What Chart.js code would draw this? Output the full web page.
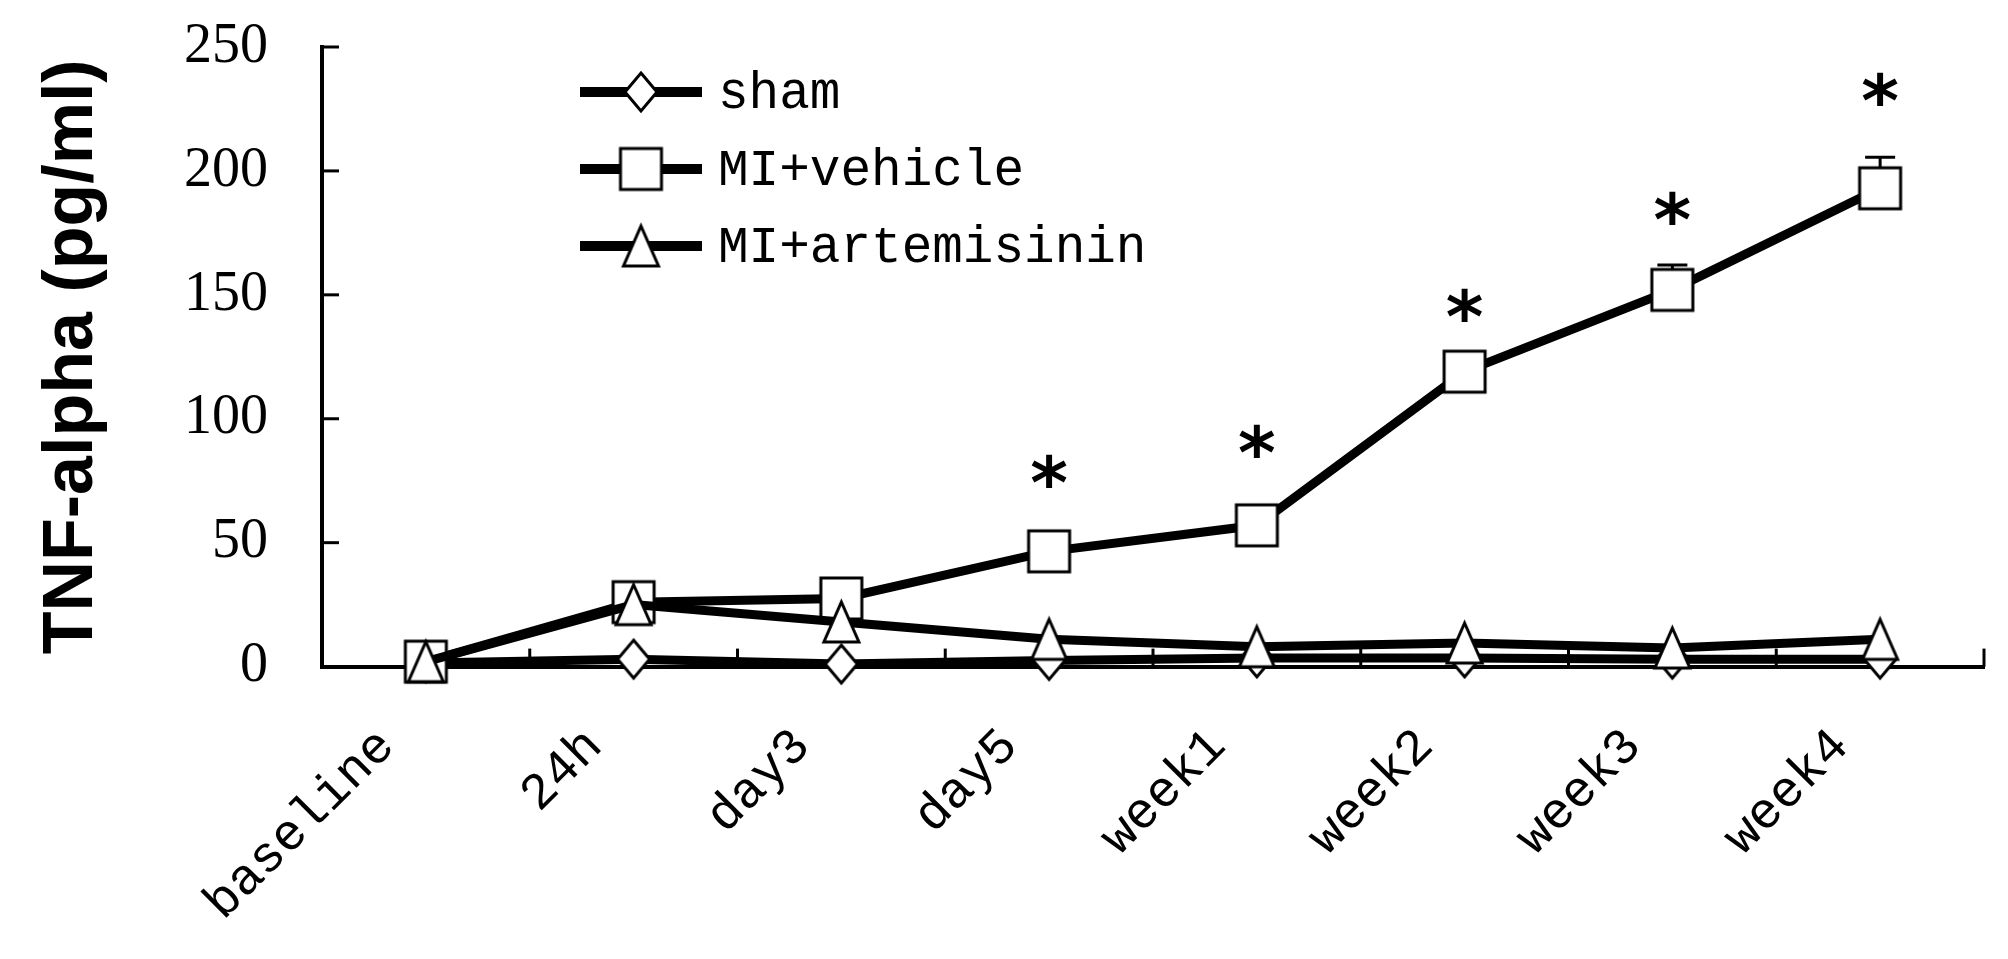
<!DOCTYPE html>
<html>
<head>
<meta charset="utf-8">
<script src="https://cdn.jsdelivr.net/npm/chart.js@4.4.1/dist/chart.umd.min.js"></script>
<style>
  html, body { margin: 0; padding: 0; background: #fff; }
  .wrap { width: 2008px; height: 959px; }
</style>
</head>
<body>
<div class="wrap"><canvas id="myChart"></canvas></div>
<script>
// values
const labels = ['baseline', '24h', 'day3', 'day5', 'week1', 'week2', 'week3', 'week4'];
const sham = [1.5, 3, 1, 2.5, 3.5, 3.5, 3, 3];
const miVehicle = [2, 26, 27.5, 46.5, 57, 119, 152, 193];
const miVehicleErr = [null, null, null, null, null, null, 10, 12.5];
const miArtemisinin = [2, 25, 18, 11, 8, 9.5, 7.5, 11];
const starLevels = [null, null, null, 79, 91, 146, 185, 233];
const yTicks = [0, 50, 100, 150, 200, 250];

function makeMarker(shape, w, h) {
  const m = 6;
  const c = document.createElement('canvas');
  c.width = w + m * 2;
  c.height = h + m * 2;
  const ctx = c.getContext('2d');
  ctx.translate(m, m);
  ctx.beginPath();
  if (shape === 'square') {
    ctx.rect(0, 0, w, h);
  } else if (shape === 'diamond') {
    ctx.moveTo(w / 2, 0);
    ctx.lineTo(w, h / 2);
    ctx.lineTo(w / 2, h);
    ctx.lineTo(0, h / 2);
    ctx.closePath();
  } else {
    ctx.moveTo(w / 2, 0);
    ctx.lineTo(w, h);
    ctx.lineTo(0, h);
    ctx.closePath();
  }
  ctx.fillStyle = '#fff';
  ctx.fill();
  ctx.lineWidth = 3;
  ctx.strokeStyle = '#000';
  ctx.stroke();
  return c;
}

const diamondImg = makeMarker('diamond', 32, 38);
const squareImg = makeMarker('square', 41, 41);
const triangleImg = makeMarker('triangle', 35, 40);

const common = {
  borderColor: '#000',
  backgroundColor: '#fff',
  borderWidth: 9,
  pointRadius: 24,
  pointHoverRadius: 24,
  tension: 0,
  fill: false,
  clip: false,
};

// ticks pointing into the plot
const innerTicks = {
  id: 'innerTicks',
  beforeDatasetsDraw(chart) {
    const { ctx, scales: { x, y } } = chart;
    ctx.save();
    ctx.strokeStyle = '#000';
    ctx.lineWidth = 3;
    yTicks.forEach((v) => {
      const py = y.getPixelForValue(v);
      ctx.beginPath();
      ctx.moveTo(x.left, py);
      ctx.lineTo(x.left + 17, py);
      ctx.stroke();
    });
    const half = (x.getPixelForValue(1) - x.getPixelForValue(0)) / 2;
    for (let i = 0; i < labels.length; i++) {
      const px = x.getPixelForValue(i) + half;
      ctx.beginPath();
      ctx.moveTo(px, y.bottom);
      ctx.lineTo(px, y.bottom - 18);
      ctx.stroke();
    }
    ctx.restore();
  },
};

const errorBars = {
  id: 'errorBars',
  beforeDatasetsDraw(chart) {
    const { ctx, scales: { x, y } } = chart;
    ctx.save();
    ctx.strokeStyle = '#000';
    ctx.lineWidth = 3;
    miVehicleErr.forEach((e, i) => {
      if (e == null) return;
      const px = x.getPixelForValue(i);
      const top = y.getPixelForValue(miVehicle[i] + e);
      ctx.beginPath();
      ctx.moveTo(px, y.getPixelForValue(miVehicle[i]));
      ctx.lineTo(px, top);
      ctx.moveTo(px - 15, top);
      ctx.lineTo(px + 15, top);
      ctx.stroke();
    });
    ctx.restore();
  },
};

const stars = {
  id: 'stars',
  afterDatasetsDraw(chart) {
    const { ctx, scales: { x, y } } = chart;
    ctx.save();
    ctx.fillStyle = '#000';
    ctx.font = 'bold 72px "DejaVu Sans"';
    ctx.textAlign = 'center';
    ctx.textBaseline = 'alphabetic';
    const m = ctx.measureText('*');
    const shift = (m.actualBoundingBoxAscent - m.actualBoundingBoxDescent) / 2;
    starLevels.forEach((v, i) => {
      if (v == null) return;
      ctx.fillText('*', x.getPixelForValue(i), y.getPixelForValue(v) + shift);
    });
    ctx.restore();
  },
};

const lineLegend = {
  id: 'lineLegend',
  afterDatasetsDraw(chart) {
    const { ctx, chartArea } = chart;
    const left = chartArea.left + 258;
    const top = chartArea.top + 45;
    ctx.save();
    chart.data.datasets.forEach((ds, i) => {
      const cy = top + i * 77;
      ctx.strokeStyle = '#000';
      ctx.lineWidth = 10;
      ctx.beginPath();
      ctx.moveTo(left, cy);
      ctx.lineTo(left + 122, cy);
      ctx.stroke();
      const img = ds.pointStyle;
      ctx.drawImage(img, left + 61 - img.width / 2, cy - img.height / 2);
      ctx.fillStyle = '#000';
      ctx.font = '51px "Liberation Mono"';
      ctx.textAlign = 'left';
      ctx.textBaseline = 'middle';
      ctx.fillText(ds.label, left + 138, cy + 2);
    });
    ctx.restore();
  },
};

const ctx = document.getElementById('myChart').getContext('2d');

const chart = new Chart(ctx, {
  type: 'line',
  data: {
    labels: labels,
    datasets: [
      { ...common, label: 'sham', data: sham, order: 3, pointStyle: diamondImg },
      { ...common, label: 'MI+vehicle', data: miVehicle, order: 2, pointStyle: squareImg },
      { ...common, label: 'MI+artemisinin', data: miArtemisinin, order: 1, pointStyle: triangleImg },
    ],
  },
  plugins: [innerTicks, errorBars, stars, lineLegend],
  options: {
    responsive: true,
    maintainAspectRatio: false,
    animation: false,
    layout: { autoPadding: false, padding: { left: 31, top: 47, right: 24, bottom: -24 } },
    plugins: {
      legend: { display: false },
      tooltip: { enabled: false },
    },
    scales: {
      x: {
        offset: true,
        grid: { display: false, drawTicks: false },
        border: { display: true, color: '#000', width: 4 },
        ticks: {
          color: '#000',
          font: { family: 'Liberation Mono', size: 51 },
          minRotation: 45,
          maxRotation: 45,
          autoSkip: false,
          labelOffset: -39,
          padding: 50,
        },
        afterFit(scale) {
          scale.paddingRight = 0;
        },
      },
      y: {
        min: 0,
        max: 250,
        grid: { display: false, drawTicks: false },
        border: { display: true, color: '#000', width: 4 },
        ticks: {
          stepSize: 50,
          color: '#000',
          font: { family: 'Liberation Serif', size: 56 },
          padding: 54,
        },
        title: {
          display: true,
          text: 'TNF-alpha (pg/ml)',
          color: '#000',
          font: { family: 'Liberation Sans', weight: 'bold', size: 70 },
          padding: { top: 0, bottom: 15 },
        },
        afterFit(scale) {
          scale.paddingTop = 34;
        },
      },
    },
  },
});
</script>
</body>
</html>
